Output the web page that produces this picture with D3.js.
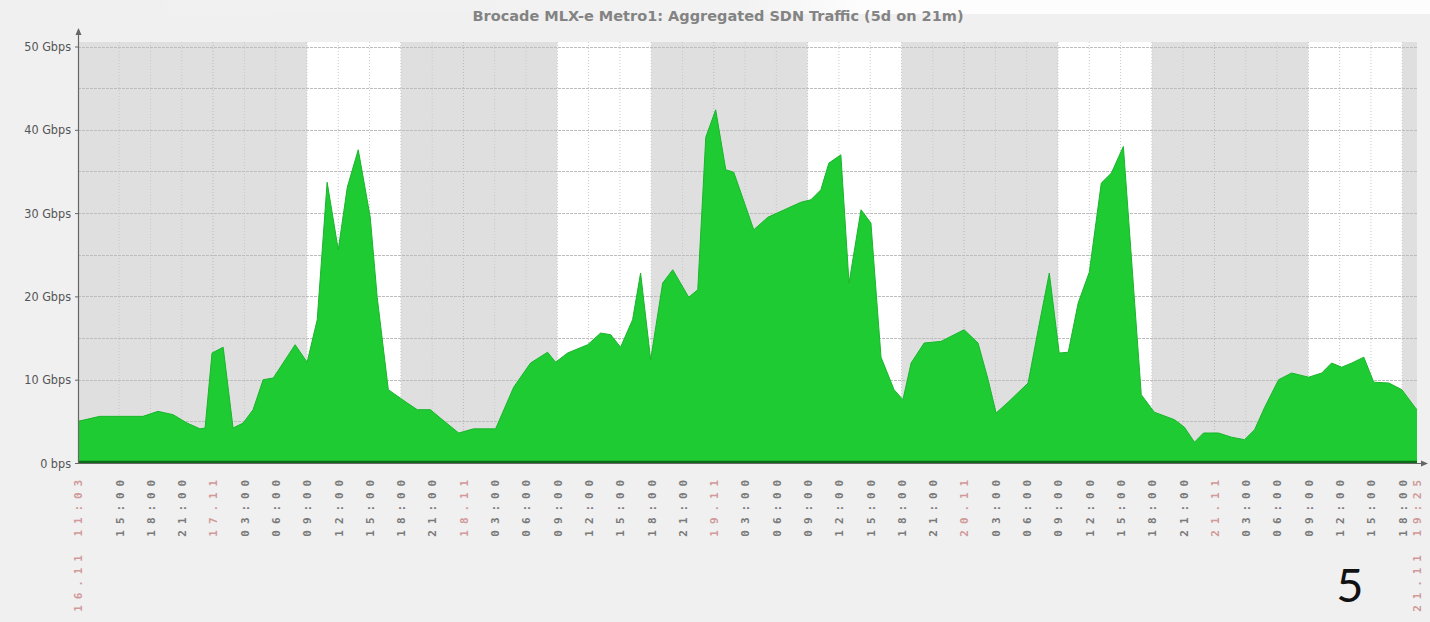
<!DOCTYPE html>
<html><head><meta charset="utf-8">
<script src="https://cdn.jsdelivr.net/npm/d3@7/dist/d3.min.js"></script>
<style>
html,body{margin:0;padding:0;background:#f0f0f0;}
svg{display:block;}
</style></head>
<body>
<svg id="c" width="1430" height="622"></svg>
<script>
// ---------------- data ----------------
const chartTitle = "Brocade MLX-e Metro1: Aggregated SDN Traffic (5d on 21m)";
const periodStart = "16 11:03";
const periodEnd = "21 19:25";
const workDays = ["17", "18", "19", "20", "21"];   // working periods 09:00–18:00
const workHours = [9, 18];
const yTicks = [0, 10, 20, 30, 40, 50];
const yTickLabels = ["0 bps", "10 Gbps", "20 Gbps", "30 Gbps", "40 Gbps", "50 Gbps"];
const yGrid = [5, 10, 15, 20, 25, 30, 35, 40, 45, 50];
const slideNumber = "5";
// aggregated traffic, Gbps (time as "day HH:MM", November 2014)
const trafficTimes = [
 "16 11:03","16 13:09","16 17:17","16 18:43","16 20:10","16 21:30","16 22:45","16 23:14","16 23:54",
 "17 00:58","17 01:55","17 02:53","17 03:50","17 04:48","17 05:46","17 07:52","17 09:01","17 09:59",
 "17 10:56","17 12:00","17 12:52","17 13:55","17 15:04","17 15:44","17 16:48","17 18:37","17 19:35",
 "17 20:50","17 21:47","17 23:33","18 00:58","18 03:05","18 04:49","18 06:26","18 08:04","18 08:50",
 "18 09:59","18 11:55","18 13:09","18 14:07","18 15:04","18 16:13","18 16:59","18 17:57","18 19:06",
 "18 20:04","18 21:36","18 22:28","18 23:14","19 00:11","19 01:09","19 01:55","19 03:50","19 05:11",
 "19 08:21","19 09:19","19 10:16","19 11:02","19 12:11","19 12:58","19 14:07","19 15:04","19 16:02",
 "19 17:17","19 18:08","19 18:55","19 20:10","19 21:47","20 00:00","20 01:20","20 02:18","20 03:04",
 "20 04:13","20 06:08","20 07:06","20 08:10","20 09:07","20 09:59","20 10:56","20 12:00","20 13:09",
 "20 14:07","20 15:16","20 16:02","20 16:59","20 18:14","20 20:10","20 21:07","20 22:05","20 22:57",
 "21 00:23","21 01:38","21 02:53","21 03:51","21 04:49","21 06:09","21 07:24","21 09:02","21 10:17",
 "21 11:14","21 12:12","21 13:10","21 14:19","21 15:16","21 16:43","21 17:58","21 19:13","21 19:25"
];
const trafficGbps = [
 5.0,5.6,5.6,6.2,5.8,4.8,4.1,4.2,13.2,
 13.9,4.2,4.8,6.4,10.0,10.2,14.2,12.1,17.2,
 33.7,25.6,33.1,37.6,29.5,19.9,8.8,7.2,6.4,
 6.4,5.4,3.6,4.1,4.1,9.1,12.0,13.3,12.1,
 13.2,14.2,15.6,15.4,13.9,17.2,22.8,12.4,21.6,
 23.2,19.9,20.8,39.1,42.4,35.2,34.9,28.0,29.5,
 31.3,31.6,32.8,36.0,37.0,21.6,30.4,28.8,12.7,
 8.8,7.6,12.0,14.4,14.6,16.0,14.4,10.0,6.0,
 7.3,9.6,16.0,22.8,13.2,13.3,19.2,22.9,33.6,
 34.8,38.0,24.7,8.2,6.1,5.2,4.3,2.5,3.6,
 3.6,3.1,2.8,4.0,6.7,10.0,10.8,10.3,10.8,
 12.0,11.5,12.0,12.7,9.7,9.6,8.8,6.7,6.4
];

// ---------------- chart ----------------
const parse = s => d3.timeParse("%Y-%m-%d %H:%M")("2014-11-" + s);
const t0 = parse(periodStart), t1 = parse(periodEnd);
const data = trafficTimes.map((t, i) => ({t: parse(t), v: trafficGbps[i]}));

const L = 78, R = 1417, B = 463, T = 42;
const x = d3.scaleTime().domain([t0, t1]).range([L, R]);
const y = d3.scaleLinear().domain([0, 50]).range([B, 46.5]);

const svg = d3.select("#c");
const defs = svg.append("defs");
const lg = defs.append("linearGradient").attr("id","topglow").attr("x1",0).attr("x2",1).attr("y1",0).attr("y2",0);
lg.append("stop").attr("offset","0%").attr("stop-color","#fff").attr("stop-opacity",0);
lg.append("stop").attr("offset","52%").attr("stop-color","#fff").attr("stop-opacity",0.15);
lg.append("stop").attr("offset","60%").attr("stop-color","#fff").attr("stop-opacity",0.85);
lg.append("stop").attr("offset","100%").attr("stop-color","#fff").attr("stop-opacity",0.9);
svg.append("rect").attr("x",0).attr("y",0).attr("width",1430).attr("height",14).attr("fill","url(#topglow)");

// title, clipped at the top like the source
defs.append("clipPath").attr("id","tclip").append("rect").attr("x",0).attr("y",9).attr("width",1430).attr("height",20);
svg.append("text").attr("x",718).attr("y",21).attr("text-anchor","middle")
  .attr("clip-path","url(#tclip)")
  .attr("font-family","DejaVu Sans").attr("font-size",14.5).attr("font-weight","bold")
  .attr("fill","#555").attr("opacity",0.7).text(chartTitle);

// plot background: non-working gray, working white
svg.append("rect").attr("x",L).attr("y",T).attr("width",R-L).attr("height",B-T).attr("fill","#dfdfdf");
svg.append("g").selectAll("rect").data(workDays).join("rect")
  .attr("x", d => x(parse(d + " 0" + workHours[0] + ":00")))
  .attr("width", d => x(parse(d + " " + workHours[1] + ":00")) - x(parse(d + " 0" + workHours[0] + ":00")))
  .attr("y",T).attr("height",B-T).attr("fill","#ffffff");

// grid
const hourTicks = d3.timeHour.every(3).range(t0, t1)
  .filter(d => (d - t0) > 2 * 3600e3 && (t1 - d) > 1 * 3600e3);
svg.append("g").selectAll("line").data(hourTicks).join("line")
  .attr("x1", d => x(d)).attr("x2", d => x(d)).attr("y1",T).attr("y2",B)
  .attr("stroke", d => d.getHours() === 0 ? "#b8b8b8" : "#c8c8c8")
  .attr("stroke-width",1).attr("stroke-dasharray","1,2");
svg.append("g").selectAll("line").data(yGrid).join("line")
  .attr("x1",L).attr("x2",R).attr("y1", d => Math.round(y(d))+0.5).attr("y2", d => Math.round(y(d))+0.5)
  .attr("stroke","#bdbdbd").attr("stroke-width",1.2).attr("stroke-dasharray","3,1");

// area
const area = d3.area().x(d => x(d.t)).y0(y(0)).y1(d => y(d.v)).curve(d3.curveLinear);
svg.append("path").datum(data).attr("d", area).attr("fill","#1fcb33");
svg.append("path").datum(data).attr("d", d3.line().x(d => x(d.t)).y(d => y(d.v)))
  .attr("fill","none").attr("stroke","#19b52b").attr("stroke-width",1);
svg.append("line").attr("x1",L).attr("x2",R).attr("y1",B-1).attr("y2",B-1)
  .attr("stroke","#0d6a16").attr("stroke-width",2.5);

// axes with arrows
const axc = "#666";
svg.append("line").attr("x1",L+0.5).attr("x2",L+0.5).attr("y1",B).attr("y2",30).attr("stroke",axc).attr("stroke-width",1.2);
svg.append("path").attr("d",`M${L+0.5},28 l-3,7 h6 z`).attr("fill",axc);
svg.append("line").attr("x1",L).attr("x2",1425).attr("y1",B+0.5).attr("y2",B+0.5).attr("stroke",axc).attr("stroke-width",1.2);
svg.append("path").attr("d",`M1428,${B+0.5} l-7,-3 v6 z`).attr("fill",axc);

// y axis labels
const yAxis = d3.axisLeft(y).tickValues(yTicks).tickFormat((d,i) => yTickLabels[i]).tickSize(3).tickPadding(4);
const gy = svg.append("g").attr("transform",`translate(${L},0)`).call(yAxis);
gy.select(".domain").remove();
gy.selectAll("line").attr("stroke",axc);
gy.selectAll("text").attr("font-family","DejaVu Sans Condensed").attr("font-size",12.5).attr("fill","#555");

// x axis labels
const isDay = d => d.getHours() === 0 && d.getMinutes() === 0;
const fmtDay = d3.timeFormat("%d.%m"), fmtHour = d3.timeFormat("%H:%M"), fmtFull = d3.timeFormat("%d.%m %H:%M");
const xTickVals = [t0, ...hourTicks, t1];
const xAxis = d3.axisBottom(x).tickValues(xTickVals).tickSize(0).tickPadding(0)
  .tickFormat(d => (+d === +t0 || +d === +t1) ? fmtFull(d) : isDay(d) ? fmtDay(d) : fmtHour(d));
const gx = svg.append("g").attr("transform",`translate(0,${B})`).call(xAxis);
gx.select(".domain").remove();
gx.selectAll("text")
  .attr("font-family","DejaVu Sans Mono").attr("font-size",11).attr("font-weight","bold")
  .attr("letter-spacing","5.9px")
  .attr("text-anchor","end").attr("dy","0.35em").attr("y",0).attr("x",0)
  .attr("transform","translate(0,11) rotate(-90)")
  .attr("fill", d => (+d === +t0 || +d === +t1 || isDay(d)) ? "#d09a9a" : "#7a7a7a");

// slide number
svg.append("text").attr("x",1350).attr("y",602).attr("text-anchor","middle")
  .attr("font-family","Lato, 'Open Sans', sans-serif").attr("font-size",47).attr("fill","#111").text(slideNumber);
</script>
</body></html>
